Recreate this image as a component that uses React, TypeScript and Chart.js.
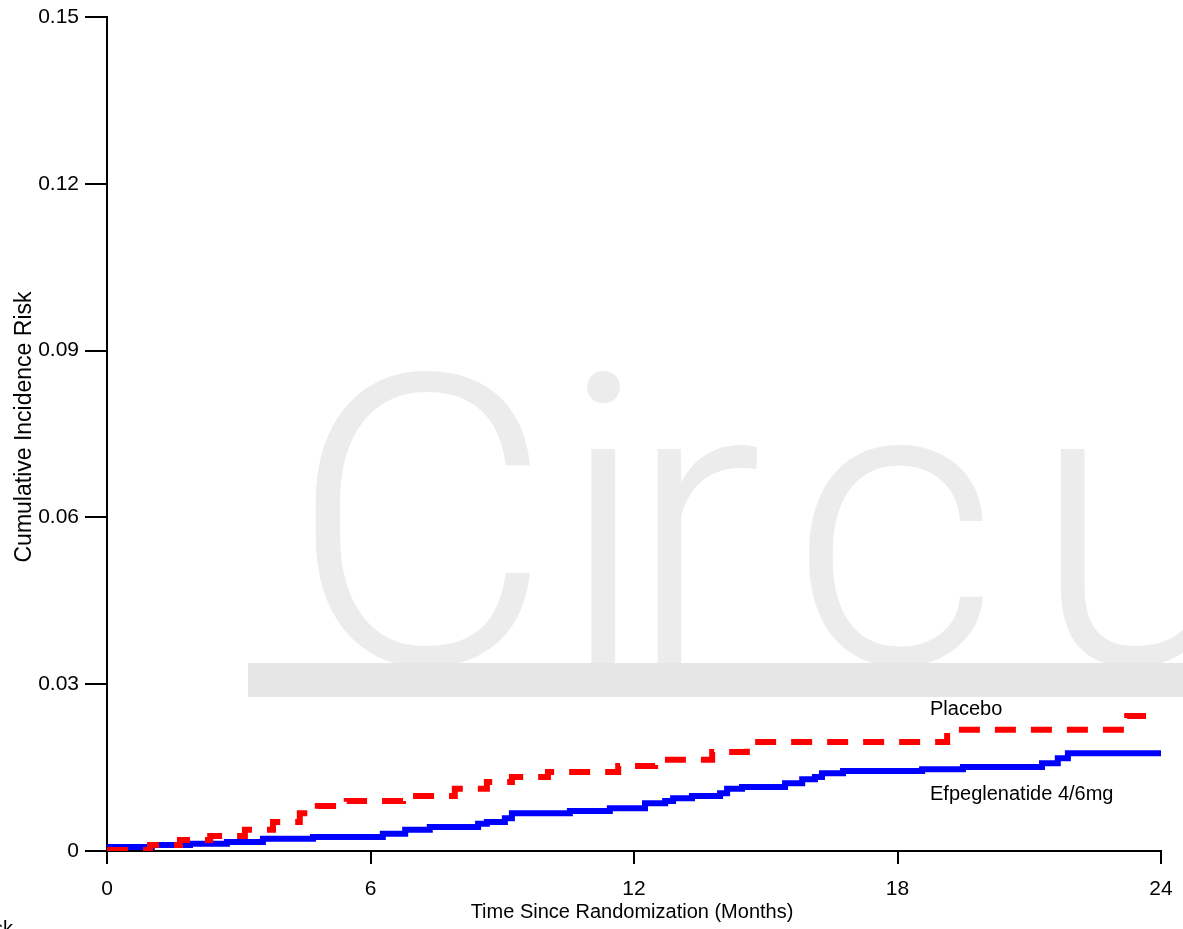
import { useEffect, useRef } from "react";
import { Chart, registerables } from "chart.js";

Chart.register(...registerables);

const FONT = "'Liberation Sans', Arial, Helvetica, sans-serif";

// Placebo (red dashed) – step times (months) and cumulative incidence
const placeboMonths = [0, 0.98, 1.66, 2.35, 3.14, 3.78, 4.39, 4.58, 4.8, 5.46, 6.74, 7.92, 8.65, 9.22, 10.04, 11.64, 12.48, 13.78, 14.57, 19.13, 23.23, 24];
const placeboRisk = [0.0002, 0.0011, 0.002, 0.0027, 0.0038, 0.0052, 0.0068, 0.0074, 0.0081, 0.009, 0.0099, 0.0112, 0.0124, 0.0133, 0.0142, 0.0153, 0.0164, 0.0178, 0.0196, 0.0218, 0.0243, 0.0243];

// Efpeglenatide 4/6mg (blue solid)
const efpegMonths = [0, 1.02, 1.89, 2.73, 3.55, 4.69, 6.28, 6.79, 7.35, 8.45, 8.65, 9.06, 9.22, 10.54, 11.45, 12.25, 12.71, 12.89, 13.32, 13.96, 14.12, 14.46, 15.44, 15.83, 16.12, 16.28, 16.76, 18.56, 19.49, 21.29, 21.65, 21.88, 24];
const efpegRisk = [0.0007, 0.0011, 0.0013, 0.0016, 0.0022, 0.0025, 0.0031, 0.0038, 0.0043, 0.0049, 0.0052, 0.0059, 0.0068, 0.0072, 0.0077, 0.0086, 0.009, 0.0095, 0.0099, 0.0104, 0.0112, 0.0115, 0.0122, 0.0129, 0.0133, 0.014, 0.0144, 0.0147, 0.0151, 0.0158, 0.0167, 0.0176, 0.0176];

const xTickValues = [0, 6, 12, 18, 24];
const yTickLabels = ["0", "0.03", "0.06", "0.09", "0.12", "0.15"];

const seriesNames = ["Placebo", "Efpeglenatide 4/6mg"];
const xTitle = "Time Since Randomization (Months)";
const yTitle = "Cumulative Incidence Risk";
const watermarkLetters = ["C", "i", "r", "c", "u"];
const watermarkLeft = [315, 583, 652, 803, 1056];
const riskLabel = "Number at Risk";

const decorPlugin = {
  id: "decor",
  beforeDraw(chart: any) {
    const ctx = chart.ctx;
    ctx.save();
    ctx.fillStyle = "#ececec";
    ctx.font = `300 405px Roboto, ${FONT}`;
    ctx.textBaseline = "alphabetic";
    ctx.textAlign = "left";
    watermarkLetters.forEach((ch, i) => {
      const m = ctx.measureText(ch);
      ctx.fillText(ch, watermarkLeft[i] + m.actualBoundingBoxLeft, 663);
    });
    ctx.fillStyle = "#e6e6e6";
    ctx.fillRect(248, 663, 935, 34);
    ctx.restore();
  },
  afterDraw(chart: any) {
    const ctx = chart.ctx;
    const ca = chart.chartArea;
    const xs = chart.scales.x;
    const ys = chart.scales.y;
    ctx.save();
    ctx.fillStyle = "#000";
    // x title
    ctx.font = `20px ${FONT}`;
    ctx.textAlign = "center";
    ctx.textBaseline = "alphabetic";
    ctx.fillText(xTitle, (ca.left + ca.right) / 2 - 2, 918);
    // y title
    ctx.save();
    ctx.translate(31, (ca.top + ca.bottom) / 2 - 7);
    ctx.rotate(-Math.PI / 2);
    ctx.font = `23px ${FONT}`;
    ctx.textAlign = "center";
    ctx.fillText(yTitle, 0, 0);
    ctx.restore();
    // curve labels
    ctx.font = `20px ${FONT}`;
    ctx.textAlign = "left";
    ctx.fillText(seriesNames[0], xs.getPixelForValue(18.74), ys.getPixelForValue(0.0245));
    ctx.fillText(seriesNames[1], xs.getPixelForValue(18.74), ys.getPixelForValue(0.0092));
    // number at risk (cut off at page edge)
    ctx.textAlign = "right";
    ctx.fillText(riskLabel, 13, 935);
    ctx.restore();
  },
};

export default function App() {
  const ref = useRef<HTMLCanvasElement>(null);
  useEffect(() => {
    const canvas = ref.current!;
    const chart = new Chart(canvas, {
      type: "line",
      data: {
        datasets: [
          {
            label: seriesNames[0],
            data: placeboMonths.map((m, i) => ({ x: m, y: placeboRisk[i] })),
            borderColor: "#ff0000",
            borderWidth: 6,
            borderDash: [21, 15],
            borderCapStyle: "butt",
            stepped: true,
            pointRadius: 0,
            fill: false,
          },
          {
            label: seriesNames[1],
            data: efpegMonths.map((m, i) => ({ x: m, y: efpegRisk[i] })),
            borderColor: "#0000ff",
            borderWidth: 6,
            stepped: true,
            pointRadius: 0,
            fill: false,
          },
        ],
      },
      options: {
        responsive: false,
        animation: false,
        devicePixelRatio: 1,
        layout: { padding: { top: 17, right: 22, left: 0, bottom: 0 } },
        plugins: { legend: { display: false }, tooltip: { enabled: false } },
        scales: {
          x: {
            type: "linear",
            min: 0,
            max: 24,
            afterFit: (s: any) => {
              s.height = 78;
              s.paddingLeft = 0;
              s.paddingRight = 0;
            },
            afterBuildTicks: (s: any) => {
              s.ticks = xTickValues.map((v) => ({ value: v }));
            },
            ticks: {
              color: "#000",
              font: { family: FONT, size: 21 },
              padding: 13,
              maxRotation: 0,
              callback: (v: any) => String(v),
            },
            grid: {
              drawOnChartArea: false,
              drawTicks: true,
              tickLength: 13,
              color: "#000",
              lineWidth: 2,
            },
            border: { display: true, color: "#000", width: 2 },
          },
          y: {
            type: "linear",
            min: 0,
            max: 0.15,
            afterFit: (s: any) => {
              s.width = 107;
              s.paddingTop = 0;
              s.paddingBottom = 0;
            },
            afterBuildTicks: (s: any) => {
              s.ticks = yTickLabels.map((t) => ({ value: parseFloat(t) }));
            },
            ticks: {
              color: "#000",
              font: { family: FONT, size: 21 },
              padding: 6,
              callback: (_v: any, i: number) => yTickLabels[i],
            },
            grid: {
              drawOnChartArea: false,
              drawTicks: true,
              tickLength: 22,
              color: "#000",
              lineWidth: 2,
            },
            border: { display: true, color: "#000", width: 2 },
          },
        },
      },
      plugins: [decorPlugin],
    } as any);
    return () => chart.destroy();
  }, []);
  return (
    <div style={{ position: "fixed", left: 0, top: 0, width: 1183, height: 929, background: "#fff" }}>
      <canvas ref={ref} width={1183} height={929} style={{ width: 1183, height: 929, display: "block" }} />
    </div>
  );
}
